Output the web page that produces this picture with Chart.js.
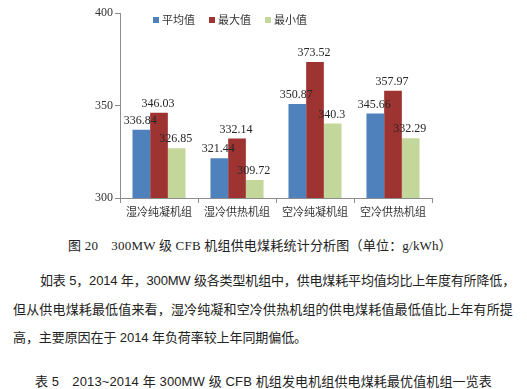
<!DOCTYPE html>
<html>
<head>
<meta charset="utf-8">
<script src="https://cdn.jsdelivr.net/npm/chart.js@4"></script>
<style>
  body { margin: 0; background: #fff; width: 527px; height: 389px; overflow: hidden; position: relative; }
  #chart { position: absolute; left: 0; top: 0; }
  .txt { position: absolute; white-space: nowrap; line-height: 20px; height: 20px; color: #222; }
  .serif { font-family: "Liberation Serif", "Noto Sans CJK SC", serif; }
  .sans { font-family: "Liberation Sans", "Noto Sans CJK SC", sans-serif; }
</style>
</head>
<body>
<canvas id="chart" width="527" height="226"></canvas>

<div class="txt serif" id="caption" data-w="384" style="left:68px; top:236px; font-size:13px;">图 20　300MW 级 CFB 机组供电煤耗统计分析图（单位：g/kWh）</div>
<div class="txt sans" id="p1" data-w="475" style="left:40px; top:271px; font-size:13px;">如表 5，2014 年，300MW 级各类型机组中，供电煤耗平均值均比上年度有所降低，</div>
<div class="txt sans" id="p2" data-w="500" style="left:13px; top:300px; font-size:13px;">但从供电煤耗最低值来看，湿冷纯凝和空冷供热机组的供电煤耗值最低值比上年有所提</div>
<div class="txt sans" id="p3" data-w="294" style="left:13px; top:328px; font-size:13px;">高，主要原因在于 2014 年负荷率较上年同期偏低。</div>
<div class="txt sans" id="t5" data-w="457" style="left:35px; top:372px; font-size:13px;">表 5　2013~2014 年 300MW 级 CFB 机组发电机组供电煤耗最优值机组一览表</div>

<script>
// chart data
const categories = ['湿冷纯凝机组', '湿冷供热机组', '空冷纯凝机组', '空冷供热机组'];
const seriesNames = ['平均值', '最大值', '最小值'];
const avgValues = [336.84, 321.44, 350.87, 345.66];
const maxValues = [346.03, 332.14, 373.52, 357.97];
const minValues = [326.85, 309.72, 340.3, 332.29];
const yTicks = [300, 350, 400];

const colors = ['#4F81BD', '#9E3431', '#C4D79B'];
const textColor = '#333333';

// stretch each text line to the width it has in the picture
document.querySelectorAll('.txt').forEach((el) => {
  const target = +el.dataset.w;
  const natural = el.getBoundingClientRect().width;
  const n = [...el.textContent].length;
  el.style.letterSpacing = ((target - natural) / n) + 'px';
});

// value labels above each bar
const valueLabels = {
  id: 'valueLabels',
  afterDatasetsDraw(chart) {
    const ctx = chart.ctx;
    ctx.save();
    ctx.font = '12px "Liberation Serif"';
    ctx.fillStyle = '#262626';
    ctx.textAlign = 'center';
    ctx.textBaseline = 'bottom';
    chart.data.datasets.forEach((ds, i) => {
      chart.getDatasetMeta(i).data.forEach((bar, j) => {
        ctx.fillText(String(ds.data[j]), bar.x - 1, bar.y - 3);
      });
    });
    ctx.restore();
  }
};

// small legend inside the plot, top left
const topLegend = {
  id: 'topLegend',
  afterDraw(chart) {
    const ctx = chart.ctx;
    const xs = [153, 209, 265];
    const y = 20;
    ctx.save();
    ctx.font = '11px "Noto Sans CJK SC"';
    ctx.textBaseline = 'middle';
    chart.data.datasets.forEach((ds, i) => {
      ctx.fillStyle = ds.backgroundColor;
      ctx.fillRect(xs[i], y - 3, 6, 6);
      ctx.fillStyle = textColor;
      ctx.fillText(ds.label, xs[i] + 9, y);
    });
    ctx.restore();
  }
};

const ctx = document.getElementById('chart').getContext('2d');
new Chart(ctx, {
  type: 'bar',
  data: {
    labels: categories,
    datasets: [
      { label: seriesNames[0], data: avgValues, backgroundColor: colors[0] },
      { label: seriesNames[1], data: maxValues, backgroundColor: colors[1] },
      { label: seriesNames[2], data: minValues, backgroundColor: colors[2] },
    ],
  },
  options: {
    responsive: false,
    animation: false,
    layout: { padding: { left: 0, right: 95, top: 13, bottom: 0 } },
    datasets: { bar: { categoryPercentage: 0.68, barPercentage: 1.0 } },
    plugins: {
      legend: { display: false },
      tooltip: { enabled: false },
    },
    scales: {
      x: {
        grid: { offset: true, drawOnChartArea: false, tickLength: 5, color: '#8c8c8c' },
        border: { color: '#8c8c8c' },
        ticks: { color: textColor, font: { family: 'Noto Sans CJK SC', size: 11 }, padding: 2, maxRotation: 0 },
        afterFit: (scale) => { scale.height = 28; },
      },
      y: {
        min: 300,
        max: 400,
        afterBuildTicks: (scale) => { scale.ticks = yTicks.map((v) => ({ value: v })); },
        grid: { drawOnChartArea: false, tickLength: 5, color: '#8c8c8c' },
        border: { color: '#8c8c8c' },
        ticks: { color: textColor, font: { family: 'Liberation Serif', size: 12 }, padding: 2 },
        afterFit: (scale) => { scale.width = 120; },
      },
    },
  },
  plugins: [valueLabels, topLegend],
});
</script>
</body>
</html>
